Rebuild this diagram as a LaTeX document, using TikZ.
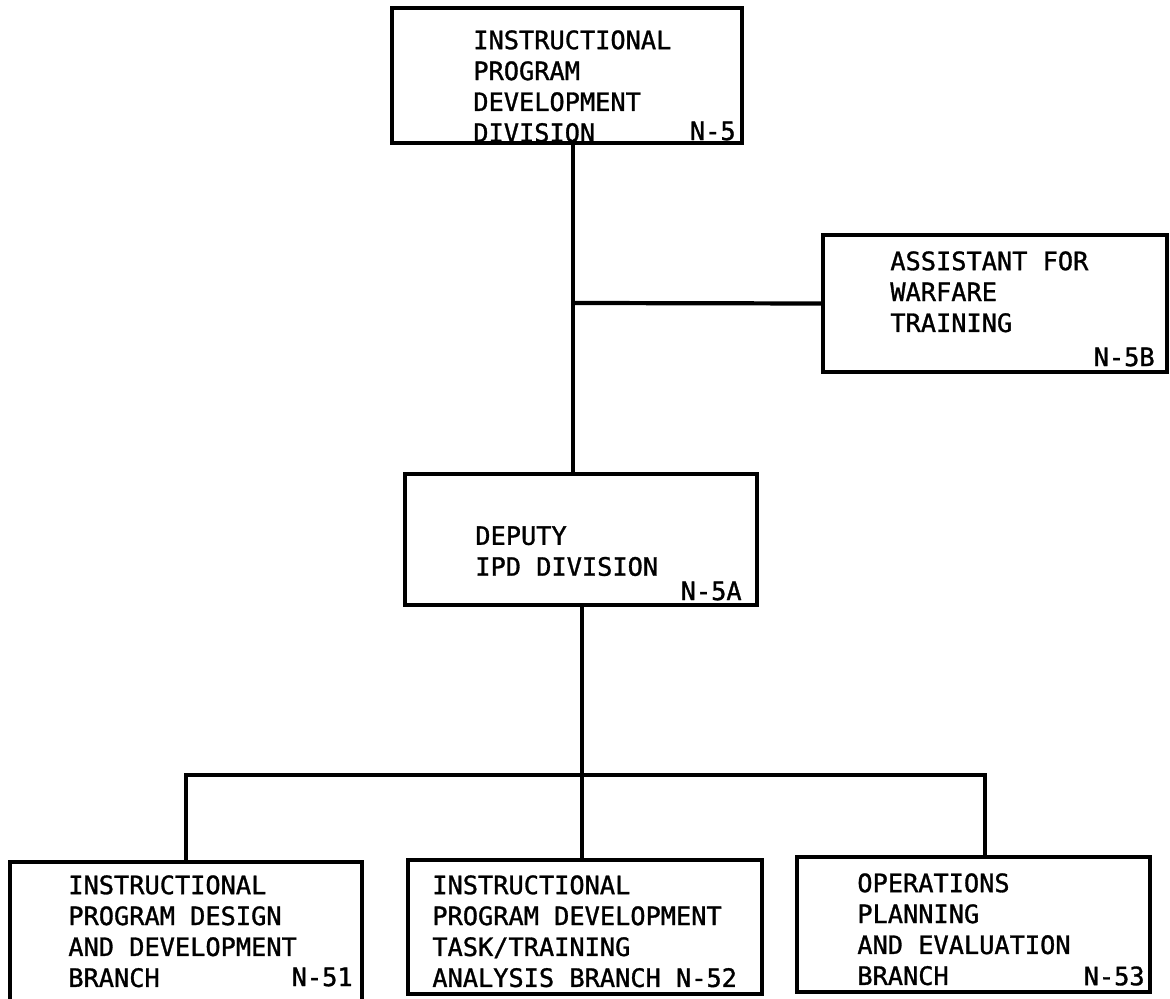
\documentclass[tikz,border=0pt]{standalone}
\usepackage{fontspec}
\newfontfamily\chartfont[FakeBold=1.2]{DejaVu Sans Mono}
\newcommand{\px}{0.02cm}
\begin{document}
\begin{tikzpicture}[x=\px, y=-\px,
    box/.style={draw, line width=1.8pt, inner sep=0pt},
    lbl/.style={font=\chartfont\fontsize{14.4}{17.6}\selectfont, align=left, anchor=north west, inner sep=0pt},
    tag/.style={font=\chartfont\fontsize{14.4}{17.6}\selectfont, anchor=east, inner sep=0pt},
    wire/.style={line width=1.8pt}]
    \useasboundingbox (0, 0) rectangle (1170, 999);

    % boxes
    \node[box, minimum width=350*\px, minimum height=135*\px] (ipd) at (567, 75.5) {};
    \node[box, minimum width=344*\px, minimum height=137*\px] (assist) at (995, 303.5) {};
    \node[box, minimum width=352*\px, minimum height=131*\px] (deputy) at (581, 539.5) {};
        \node[box, minimum width=352*\px, minimum height=141*\px] (design) at (186, 932.5) {};
        \node[box, minimum width=354*\px, minimum height=134*\px] (analysis) at (585, 927) {};
        \node[box, minimum width=353*\px, minimum height=135*\px] (ops) at (973.5, 924.5) {};

    % texts
    \node[lbl] (ipdtxt) at (473, 30) {INSTRUCTIONAL\\PROGRAM\\DEVELOPMENT\\DIVISION};
    \node[tag] (ipdtag) at (736, 131) {N-5};
    \node[lbl] (assisttxt) at (890, 251) {ASSISTANT FOR\\WARFARE\\TRAINING};
    \node[tag] (assisttag) at (1155, 357) {N-5B};
    \node[lbl] (deputytxt) at (475, 526) {DEPUTY\\IPD DIVISION};
    \node[tag] (deputytag) at (742, 591) {N-5A};
        \node[lbl] (designtxt) at (68, 875) {INSTRUCTIONAL\\PROGRAM DESIGN\\AND DEVELOPMENT\\BRANCH};
        \node[tag] (designtag) at (353, 977) {N-51};
        \node[lbl] (analysistxt) at (432, 875) {INSTRUCTIONAL\\PROGRAM DEVELOPMENT\\TASK/TRAINING\\ANALYSIS BRANCH N-52};
        \node[lbl] (opstxt) at (857, 873) {OPERATIONS\\PLANNING\\AND EVALUATION\\BRANCH};
        \node[tag] (opstag) at (1145, 976) {N-53};

    % connectors
    \coordinate (split) at (573, 303);
    \coordinate (bus) at (582, 775);
    \coordinate (busend) at (985, 775);
    \draw[wire] (ipd.south -| split) -- (split) -- (deputy.north -| split);
    \draw[wire, line width=2.4pt] (split) -- (assist.west);
    \draw[wire] (deputy.south -| bus) -- (analysis.north -| bus);
    \draw[wire] (design.north) |- (busend) -- (ops.north -| busend);
\end{tikzpicture}
\end{document}
